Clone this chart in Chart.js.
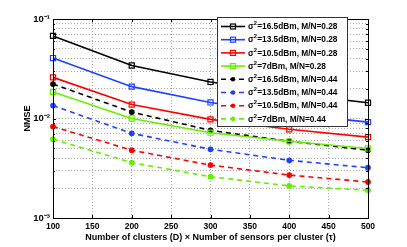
<!DOCTYPE html>
<html>
<head>
<meta charset="utf-8">
<script src="https://cdn.jsdelivr.net/npm/chart.js@4.4.1/dist/chart.umd.min.js"></script>
<style>
  html, body { margin: 0; padding: 0; background: #fff; }
</style>
</head>
<body>
<canvas id="myChart" width="407" height="247"></canvas>
<script>
// number of clusters (D) x number of sensors per cluster
const xValues = [100, 200, 300, 400, 500];
const xTicks = [100, 150, 200, 250, 300, 350, 400, 450, 500];
const yTicks = [0.001, 0.002, 0.003, 0.004, 0.005, 0.006, 0.007, 0.008, 0.009,
                0.01, 0.02, 0.03, 0.04, 0.05, 0.06, 0.07, 0.08, 0.09, 0.1];
const yTickLabels = { 0.001: '10⁻³', 0.01: '10⁻²', 0.1: '10⁻¹' };

const seriesLabels = [
    'σ²=16.5dBm, M/N=0.28', 'σ²=13.5dBm, M/N=0.28', 'σ²=10.5dBm, M/N=0.28', 'σ²=7dBm, M/N=0.28',
    'σ²=16.5dBm, M/N=0.44', 'σ²=13.5dBm, M/N=0.44', 'σ²=10.5dBm, M/N=0.44', 'σ²=7dBm, M/N=0.44'
];

// NMSE, M/N = 0.28
const nmse165_028 = [0.0676, 0.0341, 0.0233, 0.0178, 0.0144];
const nmse135_028 = [0.0405, 0.0209, 0.0145, 0.0112, 0.0092];
const nmse105_028 = [0.0259, 0.0138, 0.0098, 0.0078, 0.0065];
const nmse7_028 = [0.0185, 0.0100, 0.0072, 0.0059, 0.0050];
// NMSE, M/N = 0.44
const nmse165_044 = [0.0222, 0.0116, 0.0076, 0.0059, 0.0048];
const nmse135_044 = [0.0135, 0.0071, 0.0049, 0.0038, 0.0032];
const nmse105_044 = [0.0083, 0.0048, 0.0034, 0.0027, 0.0023];
const nmse7_044 = [0.0062, 0.0036, 0.0026, 0.0021, 0.0019];

const allSeries = [nmse165_028, nmse135_028, nmse105_028, nmse7_028,
                   nmse165_044, nmse135_044, nmse105_044, nmse7_044];
const colors = ['#000000', '#2040ff', '#ff0000', '#66ee00'];

const datasets = allSeries.map((vals, i) => {
    const dashed = i >= 4;
    const color = colors[i % 4];
    return {
        label: seriesLabels[i],
        data: xValues.map((x, k) => ({ x: x, y: vals[k] })),
        borderColor: color,
        backgroundColor: dashed ? color : 'rgba(0,0,0,0)',
        borderWidth: 1.6,
        borderDash: dashed ? [5, 4] : [],
        pointStyle: dashed ? 'circle' : 'rect',
        pointRadius: dashed ? 2.3 : 3.6,
        pointBorderWidth: 1.2,
        pointBackgroundColor: dashed ? color : 'rgba(0,0,0,0)',
        tension: 0,
        clip: false
    };
});

const matlabLook = {
    id: 'matlabLook',
    beforeDraw(chart) {
        const ctx = chart.ctx;
        ctx.save();
        ctx.fillStyle = '#fff';
        ctx.fillRect(0, 0, chart.width, chart.height);
        ctx.restore();
    },
    afterDatasetsDraw(chart) {
        const { ctx, chartArea: a, scales } = chart;
        ctx.save();
        // axes box
        ctx.strokeStyle = '#000';
        ctx.lineWidth = 1;
        ctx.strokeRect(a.left + 0.5, a.top + 0.5, a.right - a.left, a.bottom - a.top);
        // inward tick marks
        ctx.beginPath();
        scales.x.ticks.forEach(t => {
            const px = Math.round(scales.x.getPixelForValue(t.value)) + 0.5;
            ctx.moveTo(px, a.bottom); ctx.lineTo(px, a.bottom - 3);
            ctx.moveTo(px, a.top); ctx.lineTo(px, a.top + 3);
        });
        scales.y.ticks.forEach(t => {
            const py = Math.round(scales.y.getPixelForValue(t.value)) + 0.5;
            const len = yTickLabels[t.value] ? 3 : 2;
            ctx.moveTo(a.left, py); ctx.lineTo(a.left + len, py);
            ctx.moveTo(a.right, py); ctx.lineTo(a.right - len, py);
        });
        ctx.stroke();

        // legend box
        const lx = 217.5, ly = 17.5, lw = 130, lh = 109;
        ctx.fillStyle = '#fff';
        ctx.fillRect(lx, ly, lw, lh);
        ctx.strokeStyle = '#333';
        ctx.strokeRect(lx, ly, lw, lh);

        chart.data.datasets.forEach((ds, i) => {
            const y = 26.5 + i * 13.2;
            ctx.strokeStyle = ds.borderColor;
            ctx.lineWidth = ds.borderWidth;
            ctx.setLineDash(ds.borderDash);
            ctx.beginPath();
            ctx.moveTo(221, y); ctx.lineTo(245, y);
            ctx.stroke();
            ctx.setLineDash([]);
            ctx.lineWidth = 1.2;
            if (ds.pointStyle === 'rect') {
                ctx.strokeRect(230.5, y - 2.5, 5, 5);
            } else {
                ctx.fillStyle = ds.borderColor;
                ctx.beginPath();
                ctx.arc(233, y, 2.3, 0, Math.PI * 2);
                ctx.fill();
            }
            // label with superscript 2
            ctx.fillStyle = '#000';
            ctx.textBaseline = 'middle';
            ctx.textAlign = 'left';
            let tx = 248;
            ctx.font = 'bold 8.3px Arial';
            ctx.fillText('σ', tx, y + 0.5);
            tx += ctx.measureText('σ').width;
            ctx.font = 'bold 5.8px Arial';
            ctx.fillText('2', tx, y - 3);
            tx += ctx.measureText('2').width + 0.3;
            ctx.font = 'bold 8.3px Arial';
            ctx.fillText(ds.label.slice(2), tx, y + 0.5);
        });
        ctx.restore();
    }
};

new Chart(document.getElementById('myChart').getContext('2d'), {
    type: 'line',
    data: { datasets: datasets },
    options: {
        responsive: false,
        animation: false,
        devicePixelRatio: 1,
        layout: { padding: { top: 19, right: 39, left: 0, bottom: 0 } },
        plugins: {
            legend: { display: false },
            tooltip: { enabled: false }
        },
        scales: {
            x: {
                type: 'linear',
                min: 100,
                max: 500,
                afterBuildTicks: s => { s.ticks = xTicks.map(v => ({ value: v })); },
                afterFit: s => { s.height = 29; },
                grid: { color: '#a8a8a8', lineWidth: 1, drawTicks: false },
                border: { display: false, dash: [1, 2] },
                ticks: {
                    color: '#000',
                    font: { family: 'Arial', size: 8.5, weight: 'bold' },
                    padding: 4,
                    maxRotation: 0
                },
                title: {
                    display: true,
                    text: 'Number of clusters (D) × Number of sensors per cluster (τ)',
                    color: '#000',
                    font: { family: 'Arial', size: 9, weight: 'bold' },
                    padding: { top: 0, bottom: 4 }
                }
            },
            y: {
                type: 'logarithmic',
                min: 0.001,
                max: 0.1,
                afterBuildTicks: s => { s.ticks = yTicks.map(v => ({ value: v })); },
                afterFit: s => { s.width = 53; },
                grid: { color: '#a8a8a8', lineWidth: 1, drawTicks: false },
                border: { display: false, dash: [1, 2] },
                ticks: {
                    color: '#000',
                    font: { family: 'Arial', size: 9.5, weight: 'bold' },
                    padding: 3,
                    autoSkip: false,
                    callback: v => yTickLabels[v] || ''
                },
                title: {
                    display: true,
                    text: 'NMSE',
                    color: '#000',
                    font: { family: 'Arial', size: 9, weight: 'bold' },
                    padding: { top: 22, bottom: 0 }
                }
            }
        }
    },
    plugins: [matlabLook]
});
</script>
</body>
</html>
